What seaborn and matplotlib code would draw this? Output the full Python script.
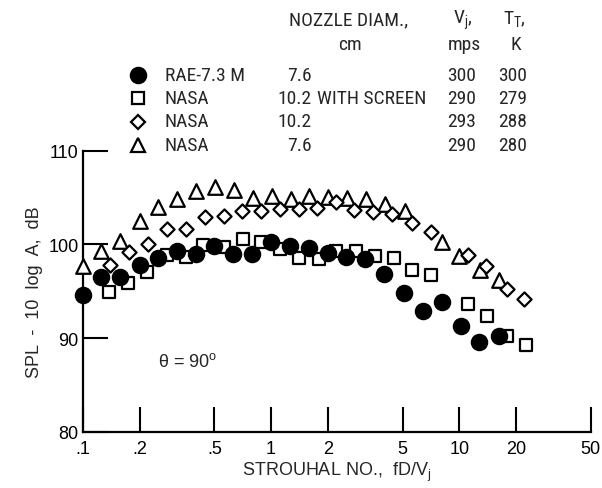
import matplotlib
matplotlib.use("Agg")
import matplotlib.pyplot as plt
from matplotlib import font_manager as fm
import seaborn as sns
import pandas as pd

# Strouhal number (fD/Vj) and SPL - 10 log A (dB) for each jet configuration
rae_x = [0.1, 0.125, 0.158, 0.2, 0.25, 0.315, 0.4, 0.5, 0.63, 0.79, 1.0, 1.26,
         1.59, 2.0, 2.5, 3.16, 4.0, 5.1, 6.45, 8.05, 10.2, 12.7, 16.2]
rae_y = [94.6, 96.5, 96.5, 97.8, 98.6, 99.3, 99.0, 99.8, 99.0, 99.0, 100.3, 99.8,
         99.6, 99.1, 98.7, 98.5, 96.9, 94.8, 92.9, 93.9, 91.3, 89.6, 90.2]

screen_x = [0.138, 0.174, 0.220, 0.281, 0.351, 0.437, 0.559, 0.706, 0.881, 1.11, 1.41,
            1.79, 2.21, 2.83, 3.55, 4.52, 5.60, 7.05, 11.1, 14.1, 17.9, 22.6]
screen_y = [94.9, 95.9, 97.1, 98.9, 98.7, 99.9, 99.7, 100.6, 100.3, 99.5, 98.6,
            98.5, 99.3, 99.3, 98.8, 98.6, 97.3, 96.7, 93.6, 92.4, 90.2, 89.3]

d102_x = [0.140, 0.175, 0.221, 0.280, 0.354, 0.446, 0.561, 0.703, 0.881, 1.11, 1.40,
          1.76, 2.21, 2.77, 3.47, 4.39, 5.59, 7.05, 11.1, 13.9, 18.0, 22.2]
d102_y = [97.8, 99.2, 100.1, 101.7, 101.7, 102.9, 103.0, 103.6, 103.6, 103.8, 103.8,
          103.9, 104.5, 103.7, 103.5, 103.3, 102.3, 101.3, 98.9, 97.7, 95.2, 94.2]

d76_x = [0.100, 0.125, 0.158, 0.200, 0.252, 0.318, 0.401, 0.504, 0.635, 0.806, 1.01,
         1.27, 1.60, 2.01, 2.53, 3.18, 4.02, 5.13, 8.05, 9.91, 12.9, 16.2]
d76_y = [97.7, 99.3, 100.4, 102.5, 104.0, 104.9, 105.7, 106.1, 105.8, 105.0, 105.2,
         104.9, 105.2, 105.1, 105.0, 104.9, 104.3, 103.6, 100.3, 98.8, 97.3, 96.2]

x_ticks = [0.1, 0.2, 0.5, 1, 2, 5, 10, 20, 50]
x_tick_labels = [".1", ".2", ".5", "1", "2", "5", "10", "20", "50"]
y_ticks = [80, 90, 100, 110]

# Legend table rows: marker, source, nozzle diameter, extra note, Vj, TT
legend_markers = ["o", "s", "D", "^"]
legend_sources = ["RAE-7.3 M", "NASA", "NASA", "NASA"]
legend_diams = ["7.6", "10.2", "10.2", "7.6"]
legend_notes = ["", "WITH SCREEN", "", ""]
legend_vj = ["300", "290", "293", "290"]
legend_tt = ["300", "279", "288", "280"]

sns.set_style("ticks")
plt.rcParams["font.family"] = ["Liberation Sans", "DejaVu Sans"]
plt.rcParams["mathtext.fontset"] = "custom"
plt.rcParams["mathtext.rm"] = "Liberation Sans"


def find_narrow_font():
    """Return a FontProperties for a condensed sans face if one is installed."""
    entries = fm.fontManager.ttflist
    preferred = ["Liberation Sans Narrow", "Roboto Condensed", "Open Sans Condensed",
                 "Noto Sans Condensed", "DejaVu Sans Condensed", "Arial Narrow"]
    for name in preferred:
        for f in entries:
            if f.name == name and f.style == "normal" and f.weight in (400, "normal", "regular"):
                return fm.FontProperties(fname=f.fname), True
    for f in entries:
        st = str(f.stretch).lower()
        if "condensed" in st and "extra" not in st and "ultra" not in st \
                and f.style == "normal" and f.weight in (400, "normal", "regular"):
            return fm.FontProperties(fname=f.fname), True
    return fm.FontProperties(family=["Liberation Sans", "DejaVu Sans"]), False


narrow_fp, has_narrow = find_narrow_font()
table_size = 14 if has_narrow else 12.5

W, H = 602, 489
fig = plt.figure(figsize=(W / 100, H / 100), dpi=100)
ax = fig.add_axes([82.9 / W, 1 - 433 / H, (590.8 - 82.9) / W, (433 - 151.7) / H])

series = [
    (screen_x, screen_y, "s", "white", 8.8),
    (rae_x, rae_y, "o", "black", 11.0),
    (d76_x, d76_y, "^", "white", 10.5),
    (d102_x, d102_y, "D", "white", 7.2),
]
for xs, ys, mk, fc, ms in series:
    df = pd.DataFrame({"x": xs, "y": ys})
    sns.scatterplot(data=df, x="x", y="y", marker=mk, s=ms ** 2, facecolor=fc,
                    edgecolor="black", linewidth=1.6, ax=ax, clip_on=False, zorder=3)

ax.set_xscale("log")
ax.set_xlim(0.1, 50)
ax.set_ylim(80, 110)
ax.minorticks_off()
ax.set_xticks(x_ticks)
ax.set_xticklabels(x_tick_labels)
ax.set_yticks(y_ticks)
ax.set_yticklabels([str(v) for v in y_ticks])
ax.tick_params(axis="both", direction="in", length=18, width=1.5, labelsize=13,
               color="black", labelcolor="black")
ax.tick_params(axis="x", pad=6)
ax.tick_params(axis="y", pad=3)
for side in ("top", "right"):
    ax.spines[side].set_visible(False)
for side in ("left", "bottom"):
    ax.spines[side].set_linewidth(1.6)
    ax.spines[side].set_color("black")

ax.set_xlabel(r"STROUHAL NO.,  fD/V$_\mathregular{j}$", fontsize=13, labelpad=2)
ax.set_ylabel("SPL  -  10  log  A,  dB", fontsize=13, labelpad=4)

ax.text(0.25, 87.6, r"θ = 90$^\mathregular{o}$", fontsize=13, ha="left", va="center")


# Legend table above the axes (figure pixel coordinates)
def ftext(px, py, s, ha="left"):
    fig.text(px / W, 1 - py / H, s, ha=ha, va="center", fontsize=table_size,
             fontproperties=narrow_fp)


ftext(349, 20, "NOZZLE DIAM.,", ha="center")
ftext(350, 45, "cm", ha="center")
ftext(463, 20, r"V$_\mathregular{j}$,", ha="center")
ftext(464, 45, "mps", ha="center")
ftext(514, 20, r"T$_\mathregular{T}$,", ha="center")
ftext(516, 45, "K", ha="center")

row_y = [76, 99, 122.5, 146]
leg_fc = {"o": "black", "s": "white", "D": "white", "^": "white"}
leg_ms = {"o": 11.0, "s": 8.8, "D": 7.2, "^": 10.5}
for i, py in enumerate(row_y):
    mk = legend_markers[i]
    fig.add_artist(plt.Line2D([138 / W], [1 - py / H], marker=mk, markersize=leg_ms[mk],
                              markerfacecolor=leg_fc[mk], markeredgecolor="black",
                              markeredgewidth=1.6, linestyle="none",
                              transform=fig.transFigure))
    ftext(165, py, legend_sources[i])
    ftext(312, py, legend_diams[i], ha="right")
    if legend_notes[i]:
        ftext(317, py, legend_notes[i])
    ftext(462, py, legend_vj[i], ha="center")
    ftext(513, py, legend_tt[i], ha="center")

fig.savefig("out.png", dpi=100)
